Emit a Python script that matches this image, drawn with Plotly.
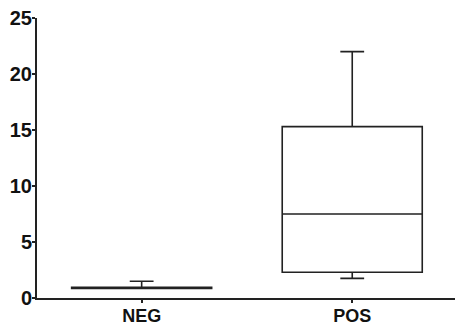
import plotly.graph_objects as go

categories = ["NEG", "POS"]
q1 = [0.86, 2.3]
median = [0.9, 7.5]
q3 = [0.95, 15.3]
lowerfence = [0.86, 1.75]
upperfence = [1.5, 22.0]
y_ticks = [0, 5, 10, 15, 20, 25]

FONT = "Liberation Sans, Arial, sans-serif"

fig = go.Figure()
fig.add_trace(go.Box(
    x=categories,
    q1=q1, median=median, q3=q3,
    lowerfence=lowerfence, upperfence=upperfence,
    width=0.665,
    whiskerwidth=0.17,
    fillcolor="rgba(0,0,0,0)",
    line=dict(color="#222222", width=1.6),
    boxpoints=False,
    showlegend=False,
))

fig.update_layout(
    width=455, height=332,
    margin=dict(l=37, r=0, t=18, b=34),
    paper_bgcolor="white", plot_bgcolor="white",
    font=dict(family=FONT, color="#111111"),
    xaxis=dict(
        type="category",
        range=[-0.497, 1.488],
        showline=True, linecolor="#222222", linewidth=2,
        ticks="outside", ticklen=3, tickwidth=1.5, tickcolor="#222222",
        tickfont=dict(size=18, family=FONT, weight="bold", color="#111111"),
        ticklabelstandoff=-3,
        showgrid=False, zeroline=False,
    ),
    yaxis=dict(
        range=[0, 25],
        tickvals=y_ticks,
        showline=True, linecolor="#222222", linewidth=2,
        ticks="outside", ticklen=3, tickwidth=1.5, tickcolor="#222222",
        tickfont=dict(size=20, family=FONT, weight="bold", color="#111111"),
        ticklabelstandoff=-4,
        showgrid=False, zeroline=False,
    ),
)

fig.write_html("out.html")
